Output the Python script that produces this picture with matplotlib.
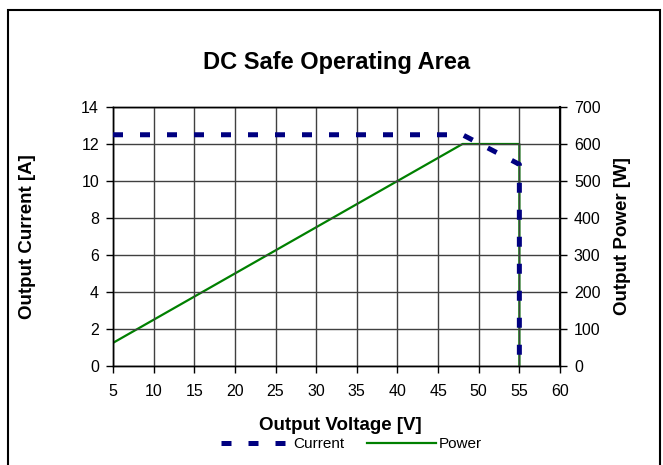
import matplotlib.pyplot as plt
from matplotlib.patches import Rectangle

plt.rcParams['font.family'] = ['Liberation Sans', 'DejaVu Sans']

voltage_current = [5, 48, 55, 55]
current = [12.5, 12.5, 10.9, 0]
voltage_power = [5, 48, 55, 55]
power = [62.5, 600, 600, 0]

fig = plt.figure(figsize=(6.63, 4.65), dpi=100)
fig.patches.append(Rectangle((8 / 663, -0.1), 652 / 663, 1.1 - 10 / 465,
                             transform=fig.transFigure, fill=False,
                             edgecolor='black', linewidth=1.5))

ax = fig.add_axes([113 / 663, 1 - 366 / 465, 447 / 663, 259 / 465])
ax2 = ax.twinx()

l1, = ax.plot(voltage_current, current, color='#000080', linewidth=3.6,
              dashes=(2.0, 3.4), label='Current', zorder=3)
l2, = ax2.plot(voltage_power, power, color='#008000', linewidth=1.6,
               label='Power', zorder=2)

ax.set_xlim(5, 60)
ax.set_ylim(0, 14)
ax2.set_ylim(0, 700)
ax.set_xticks(range(5, 61, 5))
ax.set_yticks(range(0, 15, 2))
ax2.set_yticks(range(0, 701, 100))
ax.grid(True, color='#404040', linewidth=1)
ax.set_axisbelow(True)

for a in (ax, ax2):
    a.tick_params(labelsize=11.5, length=5, width=1, direction='out', pad=5)
    for s in a.spines.values():
        s.set_linewidth(1)
ax.tick_params(axis='x', pad=8)
ax2.spines['right'].set_linewidth(1.5)
ax.set_zorder(2)
ax2.set_zorder(1)
ax.patch.set_visible(False)

ax.set_xlabel('Output Voltage [V]', fontsize=13.5, fontweight='bold')
ax.set_ylabel('Output Current [A]', fontsize=13.5, fontweight='bold')
ax2.set_ylabel('Output Power [W]', fontsize=13.5, fontweight='bold')
for lab in (ax.xaxis.label, ax.yaxis.label, ax2.yaxis.label):
    lab.set_va('center')
    lab.set_ha('center')
ax.xaxis.set_label_coords(0.508, -0.228)
ax.yaxis.set_label_coords(-0.192, 0.5)
ax2.yaxis.set_label_coords(1.139, 0.5)

fig.text(0.508, 1 - 62 / 465, 'DC Safe Operating Area', ha='center', va='center',
         fontsize=17, fontweight='bold')

fig.legend(handles=[l1, l2], loc='center', bbox_to_anchor=(0.53, 1 - 444 / 465),
           ncol=2, frameon=False, fontsize=11, handlelength=4.5,
           columnspacing=1.5, handletextpad=0.2)

fig.savefig('out.png', dpi=100)
